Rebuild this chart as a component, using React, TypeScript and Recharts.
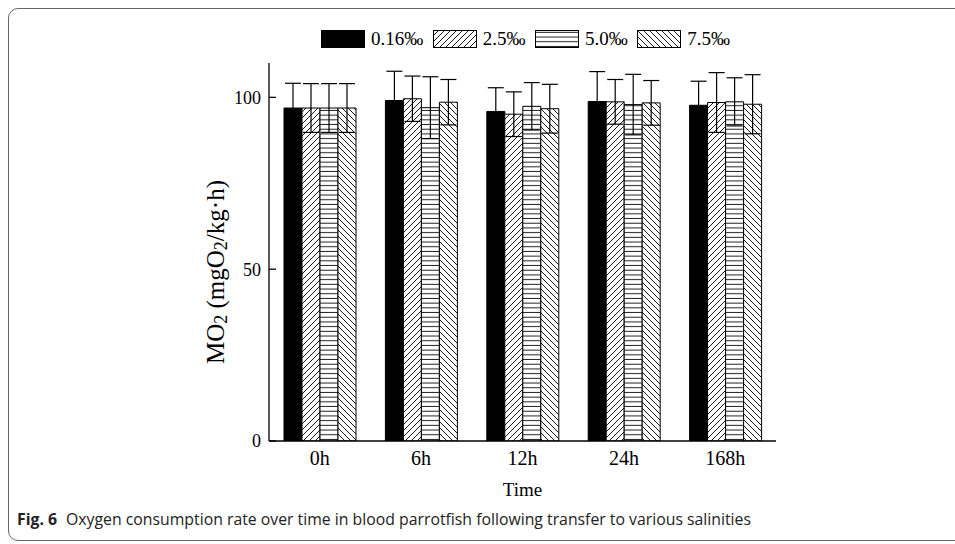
import React from "react";
import { BarChart, Bar, XAxis, YAxis, ErrorBar, Label } from "recharts";

const times = ["0h", "6h", "12h", "24h", "168h"];
const mean016 = [96.9, 99.1, 95.9, 98.8, 97.7];
const err016 = [7.2, 8.5, 6.9, 8.7, 7.0];
const mean25 = [96.9, 99.6, 95.1, 98.7, 98.5];
const err25 = [7.1, 6.6, 6.5, 6.5, 8.7];
const mean50 = [96.9, 97.0, 97.4, 97.9, 98.7];
const err50 = [7.1, 9.0, 6.9, 8.8, 7.0];
const mean75 = [96.9, 98.6, 96.7, 98.4, 98.0];
const err75 = [7.1, 6.6, 7.1, 6.5, 8.6];

const yMajorTicks = [0, 50, 100];
const yMinorTicks = [25, 75];
const xBoundaryTicks = [1, 2, 3, 4, 5];

const series = [
  { key: "s016", err: "e016", name: "0.16\u2030", fill: "#000" },
  { key: "s25", err: "e25", name: "2.5\u2030", fill: "url(#patDiag)" },
  { key: "s50", err: "e50", name: "5.0\u2030", fill: "url(#patHoriz)" },
  { key: "s75", err: "e75", name: "7.5\u2030", fill: "url(#patBack)" },
];

const data = times.map((t, i) => ({
  time: t,
  s016: mean016[i],
  e016: err016[i],
  s25: mean25[i],
  e25: err25[i],
  s50: mean50[i],
  e50: err50[i],
  s75: mean75[i],
  e75: err75[i],
}));

const serif = "'Liberation Serif', 'Times New Roman', serif";

function Patterns() {
  return (
    <svg width={0} height={0} style={{ position: "absolute" }}>
      <defs>
        <pattern id="patDiag" patternUnits="userSpaceOnUse" width={6} height={6}>
          <rect width={6} height={6} fill="#fff" />
          <path d="M0,6 L6,0 M-1,1 L1,-1 M5,7 L7,5" stroke="#000" strokeWidth={0.9} />
        </pattern>
        <pattern id="patHoriz" patternUnits="userSpaceOnUse" width={6} height={4.7}>
          <rect width={6} height={4.7} fill="#fff" />
          <path d="M0,2.3 L6,2.3" stroke="#000" strokeWidth={0.9} />
        </pattern>
        <pattern id="patBack" patternUnits="userSpaceOnUse" width={6} height={6}>
          <rect width={6} height={6} fill="#fff" />
          <path d="M0,0 L6,6 M-1,5 L1,7 M5,-1 L7,1" stroke="#000" strokeWidth={0.9} />
        </pattern>
      </defs>
    </svg>
  );
}

function YLabel(props: any) {
  const vb = props.viewBox;
  const cx = vb.x + 6;
  const cy = vb.y + vb.height / 2 + 20;
  return (
    <text
      x={cx}
      y={cy}
      transform={`rotate(-90, ${cx}, ${cy})`}
      textAnchor="middle"
      dominantBaseline="central"
      fontFamily={serif}
      fontSize={25}
      fill="#000"
    >
      MO<tspan dy={6} fontSize={18}>2</tspan>
      <tspan dy={-6}> (mgO</tspan>
      <tspan dy={6} fontSize={18}>2</tspan>
      <tspan dy={-6}>/kg·h)</tspan>
    </text>
  );
}

function XLabel(props: any) {
  const vb = props.viewBox;
  return (
    <text
      x={vb.x + vb.width / 2}
      y={vb.y + 48}
      textAnchor="middle"
      dominantBaseline="central"
      fontFamily={serif}
      fontSize={19}
      fill="#000"
    >
      Time
    </text>
  );
}

export default function App() {
  return (
    <div
      style={{
        position: "absolute",
        left: 0,
        top: 0,
        width: 955,
        height: 544,
        background: "#fff",
        overflow: "hidden",
      }}
    >
      <Patterns />
      <div
        style={{
          position: "absolute",
          left: 8,
          top: 8,
          width: 1000,
          height: 533,
          border: "1.5px solid #666",
          borderRadius: 10,
          boxSizing: "border-box",
        }}
      />
      <div
        style={{
          position: "absolute",
          left: 321,
          top: 28,
          display: "flex",
          alignItems: "center",
          fontFamily: serif,
          fontSize: 19,
          color: "#000",
        }}
      >
        {series.map((s) => (
          <div key={s.key} style={{ display: "flex", alignItems: "center", marginRight: 9.5 }}>
            <svg width={44} height={18} style={{ marginRight: 6 }}>
              <rect x={0.5} y={0.5} width={43} height={17} fill={s.fill} stroke="#000" strokeWidth={1} />
            </svg>
            <span>{s.name}</span>
          </div>
        ))}
      </div>
      <BarChart
        width={955}
        height={544}
        data={data}
        margin={{ top: 63, right: 179, left: 209, bottom: 43 }}
        barSize={18}
        barGap={0}
        style={{ position: "absolute", left: 0, top: 0 }}
      >
        <XAxis
          dataKey="time"
          height={60}
          tickLine={false}
          axisLine={{ stroke: "#000", strokeWidth: 1.3 }}
          tick={{ fontFamily: serif, fontSize: 20, fill: "#000" }}
          tickMargin={4}
        >
          <Label content={XLabel} />
        </XAxis>
        <XAxis
          xAxisId="bounds"
          type="number"
          domain={[0, 5]}
          ticks={xBoundaryTicks}
          allowDataOverflow
          mirror
          height={0}
          tick={false}
          tickSize={5}
          axisLine={false}
          tickLine={{ stroke: "#000", strokeWidth: 1.3 }}
        />
        <YAxis
          width={60}
          domain={[0, 110]}
          ticks={yMajorTicks}
          allowDataOverflow
          tickSize={-7}
          tickMargin={15}
          axisLine={{ stroke: "#000", strokeWidth: 1.3 }}
          tickLine={{ stroke: "#000", strokeWidth: 1.3 }}
          tick={{ fontFamily: serif, fontSize: 18, fill: "#000" }}
        >
          <Label content={YLabel} />
        </YAxis>
        <YAxis
          yAxisId="minor"
          domain={[0, 110]}
          ticks={yMinorTicks}
          allowDataOverflow
          mirror
          width={0}
          tick={false}
          tickSize={4}
          axisLine={false}
          tickLine={{ stroke: "#000", strokeWidth: 1.3 }}
        />
        {series.map((s) => (
          <Bar
            key={s.key}
            dataKey={s.key}
            name={s.name}
            fill={s.fill}
            stroke="#000"
            strokeWidth={1}
            isAnimationActive={false}
          >
            <ErrorBar dataKey={s.err} width={8} stroke="#000" strokeWidth={1.2} direction="y" />
          </Bar>
        ))}
      </BarChart>
      <div
        style={{
          position: "absolute",
          left: 17,
          top: 508,
          fontFamily: "'Open Sans', sans-serif",
          fontSize: 15.8,
          color: "#222",
          whiteSpace: "nowrap",
        }}
      >
        <b style={{ fontWeight: 700 }}>Fig. 6</b>
        <span style={{ marginLeft: 9 }}>
          Oxygen consumption rate over time in blood parrotfish following transfer to various salinities
        </span>
      </div>
    </div>
  );
}
